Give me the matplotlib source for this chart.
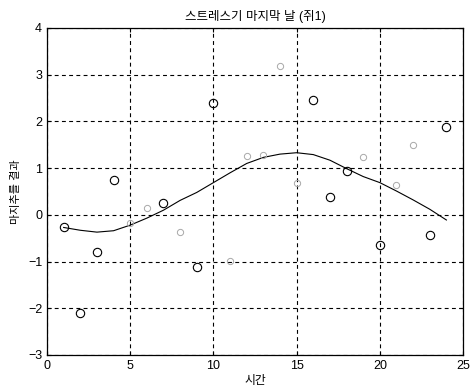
import numpy as np
import matplotlib
matplotlib.use('Agg')
import matplotlib.pyplot as plt

plt.rcParams['font.family'] = ['Liberation Sans', 'Noto Sans CJK KR', 'DejaVu Sans']

# measured points (day 1..24); some come out faint in the original print
x_dark = [1, 2, 3, 4, 7, 9, 10, 16, 17, 18, 20, 23, 24]
y_dark = [-0.25, -2.1, -0.79, 0.75, 0.26, -1.11, 2.4, 2.46, 0.39, 0.93, -0.64, -0.43, 1.88]

x_faint = [5, 6, 8, 11, 12, 13, 14, 15, 19, 21, 22]
y_faint = [-0.17, 0.15, -0.36, -0.98, 1.25, 1.28, 3.18, 0.68, 1.24, 0.64, 1.5]

# fitted curve
x_fit = [1, 2, 3, 4, 5, 6, 7, 8, 9, 10, 11, 12, 13, 14, 15, 16, 17, 18, 19, 20, 21, 22, 23, 24]
y_fit = [-0.27, -0.33, -0.37, -0.34, -0.22, -0.07, 0.1, 0.31, 0.48, 0.69, 0.9, 1.1, 1.23, 1.3, 1.33,
         1.29, 1.17, 0.99, 0.82, 0.69, 0.51, 0.32, 0.12, -0.11]

fig = plt.figure(figsize=(4.72, 3.92), dpi=100)
ax = fig.add_axes([0.0996, 0.0944, 0.8814, 0.8342])

ax.plot(x_fit, y_fit, color='black', linewidth=0.8)
ax.plot(x_dark, y_dark, 'o', markersize=6, markerfacecolor='none',
        markeredgecolor='black', markeredgewidth=0.8)
ax.plot(x_faint, y_faint, 'o', markersize=4.5, markerfacecolor='none',
        markeredgecolor='#a8a8a8', markeredgewidth=0.7)

ax.set_xlim(0, 25)
ax.set_ylim(-3, 4)
ax.set_xticks(np.arange(0, 26, 5))
ax.set_yticks(np.arange(-3, 5, 1))
ax.grid(True, color='black', linestyle=(0, (3.5, 3)), linewidth=0.8)
ax.tick_params(direction='in', labelsize=9, length=3, width=0.8, top=True, right=True)
for s in ax.spines.values():
    s.set_linewidth(0.9)

ax.set_title('스트레스기 마지막 날 (쥐1)', fontsize=9, pad=6)
ax.set_xlabel('시간', fontsize=8.5, labelpad=2)
ax.set_ylabel('마지추를 결과', fontsize=8, labelpad=5)

fig.savefig('out.png', dpi=100)
